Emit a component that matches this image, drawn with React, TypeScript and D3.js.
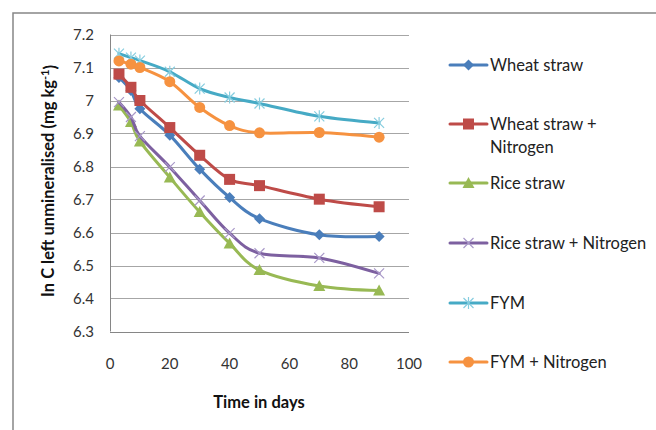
import React, { useEffect, useRef } from "react";
import * as d3 from "d3";

const days = [3, 7, 10, 20, 30, 40, 50, 70, 90];
const wheatStraw = [7.07, 7.03, 6.975, 6.895, 6.792, 6.706, 6.642, 6.593, 6.588];
const wheatStrawN = [7.08, 7.04, 7.0, 6.918, 6.834, 6.761, 6.742, 6.701, 6.678];
const riceStraw = [6.985, 6.935, 6.876, 6.767, 6.662, 6.567, 6.486, 6.438, 6.424];
const riceStrawN = [6.995, 6.95, 6.892, 6.798, 6.697, 6.598, 6.537, 6.523, 6.476];
const fym = [7.142, 7.13, 7.121, 7.087, 7.036, 7.009, 6.991, 6.952, 6.932];
const fymN = [7.12, 7.11, 7.1, 7.057, 6.979, 6.924, 6.902, 6.903, 6.889];

const seriesNames = [
  "Wheat straw",
  "Wheat straw + Nitrogen",
  "Rice straw",
  "Rice straw + Nitrogen",
  "FYM",
  "FYM + Nitrogen",
];
const yTicks = [6.3, 6.4, 6.5, 6.6, 6.7, 6.8, 6.9, 7, 7.1, 7.2];
const xTicks = [0, 20, 40, 60, 80, 100];

const lineColors = ["#4A7EBB", "#BE4B48", "#98B954", "#7D60A0", "#46AAC5", "#F69240"];
const markerColors = ["#4A7EBB", "#BE4B48", "#98B954", "#A898C8", "#86CDDF", "#F69240"];
const markerKinds = ["diamond", "square", "triangle", "x", "star", "circle"];

const FONT = "Lato, 'Open Sans', sans-serif";
const FS = 15;
const FS_BIG = 16.5;

function drawMarker(g: any, kind: string, cx: number, cy: number, color: string) {
  if (kind === "diamond") {
    g.append("path")
      .attr("d", `M${cx},${cy - 5.5}L${cx + 5.5},${cy}L${cx},${cy + 5.5}L${cx - 5.5},${cy}Z`)
      .attr("fill", color);
  } else if (kind === "square") {
    g.append("rect")
      .attr("x", cx - 5.5)
      .attr("y", cy - 5.5)
      .attr("width", 11)
      .attr("height", 11)
      .attr("fill", color);
  } else if (kind === "triangle") {
    g.append("path")
      .attr("d", `M${cx},${cy - 6}L${cx + 6},${cy + 5}L${cx - 6},${cy + 5}Z`)
      .attr("fill", color);
  } else if (kind === "circle") {
    g.append("circle").attr("cx", cx).attr("cy", cy).attr("r", 5.5).attr("fill", color);
  } else if (kind === "x") {
    g.append("path")
      .attr("d", `M${cx - 5},${cy - 5}L${cx + 5},${cy + 5}M${cx - 5},${cy + 5}L${cx + 5},${cy - 5}`)
      .attr("stroke", color)
      .attr("stroke-width", 1.2);
  } else if (kind === "star") {
    g.append("path")
      .attr(
        "d",
        `M${cx - 5},${cy - 5}L${cx + 5},${cy + 5}M${cx - 5},${cy + 5}L${cx + 5},${cy - 5}M${cx},${cy - 6}L${cx},${cy + 6}`
      )
      .attr("stroke", color)
      .attr("stroke-width", 1.2);
  }
}

export default function App() {
  const ref = useRef<SVGSVGElement>(null);

  useEffect(() => {
    const svg = d3.select(ref.current);
    svg.selectAll("*").remove();

    const allSeries = [wheatStraw, wheatStrawN, riceStraw, riceStrawN, fym, fymN];

    // scales
    const x = d3.scaleLinear().domain([0, 100]).range([110, 409]);
    const y = d3.scaleLinear().domain([6.3, 7.2]).range([331.5, 34.5]);

    // outer chart border
    svg
      .append("rect")
      .attr("x", 13)
      .attr("y", 13)
      .attr("width", 700)
      .attr("height", 450)
      .attr("fill", "white")
      .attr("stroke", "#868686")
      .attr("stroke-width", 1.5);

    // gridlines
    svg
      .append("g")
      .selectAll("line")
      .data(yTicks.slice(1))
      .enter()
      .append("line")
      .attr("x1", x(0))
      .attr("x2", x(100))
      .attr("y1", (d) => Math.round(y(d)) + 0.5)
      .attr("y2", (d) => Math.round(y(d)) + 0.5)
      .attr("stroke", "#A6A6A6")
      .attr("stroke-width", 1);

    // axes lines
    svg
      .append("line")
      .attr("x1", x(0) + 0.5)
      .attr("x2", x(0) + 0.5)
      .attr("y1", y(7.2))
      .attr("y2", y(6.3))
      .attr("stroke", "#868686");
    svg
      .append("line")
      .attr("x1", x(0))
      .attr("x2", x(100))
      .attr("y1", Math.round(y(6.3)) + 0.5)
      .attr("y2", Math.round(y(6.3)) + 0.5)
      .attr("stroke", "#868686");

    // tick labels
    svg
      .append("g")
      .selectAll("text")
      .data(yTicks)
      .enter()
      .append("text")
      .attr("x", 94)
      .attr("y", (d) => y(d))
      .attr("dy", "0.35em")
      .attr("text-anchor", "end")
      .attr("font-family", FONT)
      .attr("font-size", FS)
      .attr("fill", "#333")
      .text((d) => d3.format("")(+d.toFixed(1)));

    svg
      .append("g")
      .selectAll("text")
      .data(xTicks)
      .enter()
      .append("text")
      .attr("x", (d) => x(d))
      .attr("y", 364)
      .attr("dy", "0.35em")
      .attr("text-anchor", "middle")
      .attr("font-family", FONT)
      .attr("font-size", FS)
      .attr("fill", "#333")
      .text((d) => d);

    // axis titles
    svg
      .append("text")
      .attr("x", 259)
      .attr("y", 402)
      .attr("dy", "0.35em")
      .attr("text-anchor", "middle")
      .attr("font-family", FONT)
      .attr("font-weight", "bold")
      .attr("font-size", FS_BIG)
      .attr("fill", "#111")
      .text("Time in days");

    const yt = svg
      .append("text")
      .attr("transform", "translate(48,181) rotate(-90)")
      .attr("dy", "0.35em")
      .attr("text-anchor", "middle")
      .attr("font-family", FONT)
      .attr("font-weight", "bold")
      .attr("font-size", FS_BIG)
      .attr("fill", "#111");
    yt.append("tspan").text("In C left unmineralised (mg kg");
    yt.append("tspan").attr("dy", "-0.4em").attr("font-size", 11).text("-1");
    yt.append("tspan").attr("dy", "0.4em").text(")");

    // lines and markers
    const line = d3
      .line<number>()
      .x((d, i) => x(days[i]))
      .y((d) => y(d))
      .curve(d3.curveCatmullRom.alpha(0));

    allSeries.forEach((vals, s) => {
      const g = svg.append("g");
      g.append("path")
        .attr("d", line(vals))
        .attr("fill", "none")
        .attr("stroke", lineColors[s])
        .attr("stroke-width", 3)
        .attr("stroke-linejoin", "round")
        .attr("stroke-linecap", "round");
      vals.forEach((v, i) => {
        drawMarker(g, markerKinds[s], x(days[i]), y(v), markerColors[s]);
      });
    });

    // legend
    const legendY = [65, 124, 183, 243, 303, 362];
    seriesNames.forEach((name, s) => {
      const g = svg.append("g");
      const ly = legendY[s];
      g.append("line")
        .attr("x1", 450)
        .attr("x2", 487)
        .attr("y1", ly)
        .attr("y2", ly)
        .attr("stroke", lineColors[s])
        .attr("stroke-width", 3)
        .attr("stroke-linecap", "round");
      drawMarker(g, markerKinds[s], 468.5, ly, markerColors[s]);
      const t = g
        .append("text")
        .attr("x", 490)
        .attr("y", ly)
        .attr("dy", "0.35em")
        .attr("font-family", FONT)
        .attr("font-size", FS_BIG)
        .attr("fill", "#222");
      if (name === "Wheat straw + Nitrogen") {
        t.append("tspan").attr("x", 490).text("Wheat straw +");
        t.append("tspan").attr("x", 490).attr("dy", "1.4em").text("Nitrogen");
      } else {
        t.text(name);
      }
    });
  }, []);

  return (
    <svg
      ref={ref}
      width={656}
      height={430}
      style={{ position: "absolute", left: 0, top: 0, background: "white" }}
    />
  );
}
